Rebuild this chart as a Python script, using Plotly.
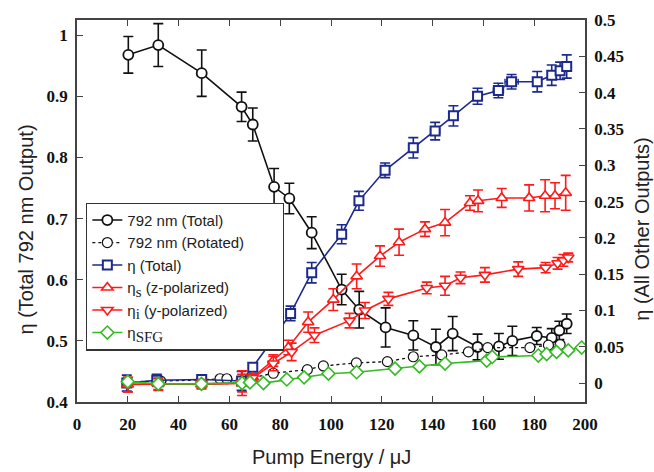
import plotly.graph_objects as go

# ---------------- data ----------------
tot_x = [20.2, 32, 49.1, 64.8, 69.2, 77.6, 83.6, 92.4, 104.2, 111.1, 121.5, 132.4, 141.3, 147.9, 157.7, 166.1, 171.4, 181, 186.9, 189.9, 192.8]
tot_y = [0.968, 0.984, 0.938, 0.883, 0.854, 0.752, 0.733, 0.677, 0.584, 0.551, 0.522, 0.509, 0.490, 0.512, 0.490, 0.491, 0.500, 0.508, 0.505, 0.517, 0.528]
tot_e = [0.030, 0.035, 0.038, 0.024, 0.027, 0.030, 0.025, 0.026, 0.025, 0.030, 0.032, 0.024, 0.029, 0.028, 0.021, 0.021, 0.024, 0.014, 0.015, 0.015, 0.016]

rot_x = [20, 33, 49, 56.3, 59, 66, 77.3, 90.7, 97, 110, 122.2, 132.4, 143.6, 154.1, 161.7, 178.3, 185.6, 190.2]
rot_y = [0.433, 0.434, 0.436, 0.438, 0.438, 0.437, 0.447, 0.453, 0.459, 0.464, 0.466, 0.474, 0.477, 0.482, 0.489, 0.489, 0.493, 0.494]

eta_x = [19.6, 31.4, 49.1, 64.8, 69.2, 77.3, 84.1, 92.4, 104.2, 111, 121.3, 132.4, 141, 148.2, 157.7, 165.9, 171.1, 181.2, 186.9, 190.2, 192.8]
eta_y = [0.0, 0.004, 0.005, 0.003, 0.022, 0.061, 0.096, 0.152, 0.205, 0.251, 0.293, 0.324, 0.347, 0.368, 0.395, 0.403, 0.415, 0.415, 0.424, 0.430, 0.436]
eta_e = [0.011, 0.008, 0.006, 0.013, 0.006, 0.006, 0.010, 0.014, 0.013, 0.013, 0.010, 0.014, 0.012, 0.014, 0.011, 0.010, 0.010, 0.014, 0.014, 0.012, 0.016]
eta_xe = [0, 0, 0, 0, 0, 0, 0, 0, 0, 0, 0, 0, 1.8, 0, 0, 2.0, 2.6, 0, 0, 0, 0]

es_x = [20, 32, 49, 65, 69.2, 77.3, 83.2, 91, 100.9, 110.1, 119.3, 126.8, 137, 144.9, 154.7, 157.9, 167.2, 178, 184.3, 188.2, 192.4]
es_y = [-0.002, -0.001, -0.002, 0.0, 0.008, 0.031, 0.049, 0.084, 0.115, 0.147, 0.175, 0.194, 0.212, 0.221, 0.248, 0.251, 0.255, 0.255, 0.258, 0.258, 0.262]
es_e = [0.010, 0.008, 0.006, 0.017, 0.005, 0.008, 0.010, 0.014, 0.015, 0.017, 0.014, 0.018, 0.010, 0.018, 0.010, 0.015, 0.013, 0.018, 0.022, 0.018, 0.024]

ei_x = [20, 32, 49, 65, 69.2, 77.3, 84.5, 93.5, 107.3, 113.4, 122.6, 137.7, 144.9, 151, 160.6, 173.7, 184.5, 189.2, 191.5, 193.4]
ei_y = [-0.002, -0.002, -0.001, 0.0, 0.007, 0.027, 0.043, 0.066, 0.086, 0.100, 0.116, 0.131, 0.134, 0.145, 0.149, 0.157, 0.159, 0.165, 0.169, 0.173]
ei_e = [0.010, 0.008, 0.006, 0.012, 0.005, 0.010, 0.012, 0.010, 0.010, 0.011, 0.009, 0.008, 0.013, 0.008, 0.010, 0.010, 0.007, 0.008, 0.008, 0.006]

sfg_x = [20, 32, 49, 65, 68.1, 73.4, 82.6, 89.4, 99, 110.1, 125.2, 134.8, 144.9, 161.3, 163.5, 181.6, 184.9, 188.8, 193.4, 198.7]
sfg_y = [0.002, -0.001, -0.001, 0.0, 0.001, 0.0, 0.005, 0.008, 0.013, 0.015, 0.020, 0.023, 0.027, 0.031, 0.036, 0.038, 0.040, 0.043, 0.045, 0.049]

x_ticks = [0, 20, 40, 60, 80, 100, 120, 140, 160, 180, 200]
yl_ticks = [0.4, 0.5, 0.6, 0.7, 0.8, 0.9, 1.0]
yl_labels = ["0.4", "0.5", "0.6", "0.7", "0.8", "0.9", "1"]
yr_ticks = [0, 0.05, 0.1, 0.15, 0.2, 0.25, 0.3, 0.35, 0.4, 0.45, 0.5]
yr_labels = ["0", "0.05", "0.1", "0.15", "0.2", "0.25", "0.3", "0.35", "0.4", "0.45", "0.5"]

# ---------------- styles ----------------
BLACK = "#111111"
BLUE = "#1c2a8c"
RED = "#ff1a1a"
GREEN = "#33bb22"
LW = 1.6
MS = 10
PAD = "\u00a0" * 8
SUB = "<sub><span style='font-family:Liberation Serif;font-size:15px'>{}</span></sub>"


def err(arr, color):
    return dict(type="data", array=arr, visible=True, color=color, thickness=1.6, width=5)


fig = go.Figure()

fig.add_trace(go.Scatter(
    x=tot_x, y=tot_y, name="792 nm (Total)", mode="lines+markers",
    line=dict(color=BLACK, width=LW),
    marker=dict(symbol="circle", size=MS, color="white", line=dict(color=BLACK, width=1.8)),
    error_y=err(tot_e, BLACK), yaxis="y"))

fig.add_trace(go.Scatter(
    x=rot_x, y=rot_y, name="792 nm (Rotated)" + PAD, mode="lines+markers",
    line=dict(color=BLACK, width=1.3, dash="dot"),
    marker=dict(symbol="circle", size=MS, color="white", line=dict(color=BLACK, width=1.2)),
    yaxis="y"))

fig.add_trace(go.Scatter(
    x=eta_x, y=eta_y, name="η (Total)", mode="lines+markers",
    line=dict(color=BLUE, width=LW),
    marker=dict(symbol="square", size=9, color="white", line=dict(color=BLUE, width=2)),
    error_y=err(eta_e, BLUE),
    error_x=dict(type="data", array=eta_xe, visible=True, color=BLUE, thickness=1.4, width=3),
    yaxis="y2"))

fig.add_trace(go.Scatter(
    x=es_x, y=es_y, name="η" + SUB.format("s") + " (z-polarized)", mode="lines+markers",
    line=dict(color=RED, width=LW),
    marker=dict(symbol="triangle-up", size=MS, color="white", line=dict(color=RED, width=1.6)),
    error_y=err(es_e, RED), yaxis="y2"))

fig.add_trace(go.Scatter(
    x=ei_x, y=ei_y, name="η" + SUB.format("i") + " (y-polarized)", mode="lines+markers",
    line=dict(color=RED, width=LW),
    marker=dict(symbol="triangle-down", size=MS, color="white", line=dict(color=RED, width=1.6)),
    error_y=err(ei_e, RED), yaxis="y2"))

fig.add_trace(go.Scatter(
    x=sfg_x, y=sfg_y, name="η" + SUB.format("SFG"), mode="lines+markers",
    line=dict(color=GREEN, width=LW),
    marker=dict(symbol="diamond", size=MS, color="white", line=dict(color=GREEN, width=1.6)),
    yaxis="y2"))

tickfont = dict(family="Liberation Serif, Times New Roman, serif", size=17, color="#111111", weight="bold")
title_font = dict(family="Liberation Sans, Arial, sans-serif", size=20, color="#222222")

fig.update_layout(
    width=654, height=472,
    margin=dict(l=77, r=69, t=20, b=70),
    paper_bgcolor="white", plot_bgcolor="white",
    showlegend=True,
    legend=dict(
        x=0.018, y=0.522, xanchor="left", yanchor="top",
        bgcolor="white", bordercolor="#333333", borderwidth=1.2,
        font=dict(family="Liberation Sans, Arial, sans-serif", size=15, color="#222222"),
        tracegroupgap=0, itemwidth=30,
    ),
    xaxis=dict(
        range=[0, 200], tickvals=x_ticks, ticks="inside", ticklen=6, tickwidth=1,
        tickcolor="#444444", showline=True, linecolor="#444444", linewidth=1.5,
        mirror="ticks", showgrid=False, zeroline=False, tickfont=tickfont,
        ticklabelstandoff=6,
    ),
    yaxis=dict(
        range=[0.4, 1.025], tickvals=yl_ticks, ticktext=yl_labels, ticks="inside",
        ticklen=6, tickwidth=1, tickcolor="#444444", showline=True, linecolor="#444444",
        linewidth=1.5, showgrid=False, zeroline=False, tickfont=tickfont,
        ticklabelstandoff=4,
    ),
    yaxis2=dict(
        range=[-0.026, 0.5], tickvals=yr_ticks, ticktext=yr_labels, ticks="inside",
        ticklen=6, tickwidth=1, tickcolor="#444444", showline=True, linecolor="#444444",
        linewidth=1.5, showgrid=False, zeroline=False, tickfont=tickfont,
        overlaying="y", side="right", ticklabelstandoff=4,
    ),
    annotations=[
        dict(text="Pump Energy / μJ", xref="paper", yref="paper", x=0.5, y=-0.145,
             xanchor="center", yanchor="middle", showarrow=False, font=title_font),
        dict(text="η (Total 792 nm Output)", xref="paper", yref="paper", x=-0.1, y=0.452,
             xanchor="center", yanchor="middle", textangle=-90, showarrow=False, font=title_font),
        dict(text="η (All Other Outputs)", xref="paper", yref="paper", x=1.113, y=0.452,
             xanchor="center", yanchor="middle", textangle=-90, showarrow=False, font=title_font),
    ],
)

fig.write_html(
    "out.html",
    config={"displayModeBar": False},
    post_script="document.body.style.margin='0';document.body.style.overflow='hidden';",
)
